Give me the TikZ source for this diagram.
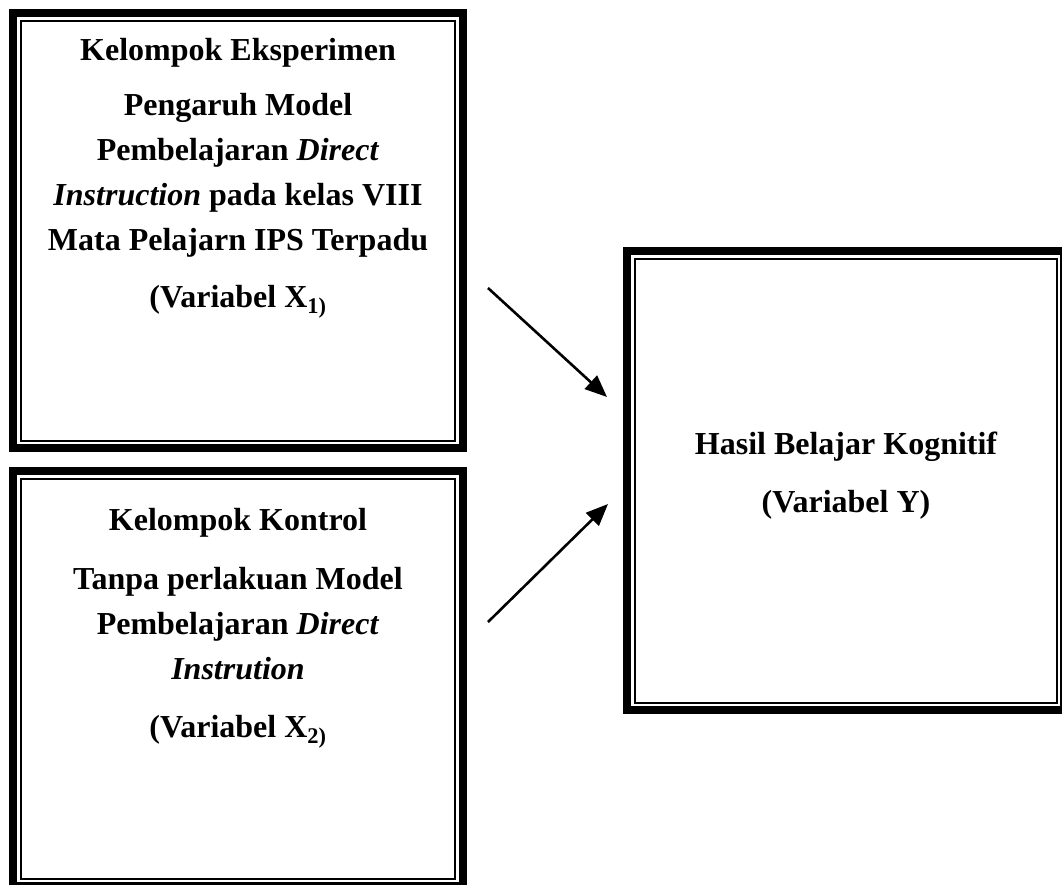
\documentclass[tikz,border=0pt]{standalone}
\usepackage{fontspec}
\setmainfont{Liberation Serif}
\usetikzlibrary{arrows.meta}
\begin{document}
\begin{tikzpicture}[x=1pt,y=-1pt,
  outerbox/.style={draw=black,line width=8pt,rectangle,inner sep=0pt,outer sep=0pt},
  innerline/.style={draw=black,line width=2pt},
  ln/.style={anchor=base,inner sep=0pt,font=\fontsize{32}{36}\selectfont\bfseries},
  arr/.style={line width=2.6pt,-{Triangle[length=22pt,width=18pt]}}]
\useasboundingbox (0,0) rectangle (1062,884);
\begin{scope}
\clip (0,0) rectangle (1062,884);
% boxes
\node[outerbox,minimum width=450pt,minimum height=435pt] (b1) at (238,230.5) {};
\node[outerbox,minimum width=450pt,minimum height=415pt] (b2) at (238,678.5) {};
\node[outerbox,minimum width=437pt,minimum height=458.5pt] (b3) at (845.5,480.25) {};
\draw[innerline] ([shift={(8,8)}]b1.north west) rectangle ([shift={(-8,-7)}]b1.south east);
\draw[innerline] ([shift={(8,8)}]b2.north west) rectangle ([shift={(-8,-7)}]b2.south east);
\draw[innerline] ([shift={(8,8)}]b3.north west) rectangle ([shift={(-7,-7)}]b3.south east);
\end{scope}
% box 1 text
\node[ln] (t11) at (238,60) {Kelompok Eksperimen};
\node[ln] (t12) at (238,115) {Pengaruh Model};
\node[ln] (t13) at (238,160) {Pembelajaran \textit{Direct}};
\node[ln] (t14) at (238,205) {\textit{Instruction} pada kelas VIII};
\node[ln] (t15) at (238,250) {Mata Pelajarn IPS Terpadu};
\node[ln] (t16) at (238,307) {(Variabel X\textsubscript{1)}};
% box 2 text
\node[ln] (t21) at (238,530) {Kelompok Kontrol};
\node[ln] (t22) at (238,589) {Tanpa perlakuan Model};
\node[ln] (t23) at (238,634) {Pembelajaran \textit{Direct}};
\node[ln] (t24) at (238,679) {\textit{Instrution}};
\node[ln] (t25) at (238,737) {(Variabel X\textsubscript{2)}};
% box 3 text
\node[ln] (t31) at (846,454) {Hasil Belajar Kognitif};
\node[ln] (t32) at (846,512) {(Variabel Y)};
% arrows
\coordinate (a1s) at (488,288);
\coordinate (a1e) at (607,397);
\coordinate (a2s) at (488,622);
\coordinate (a2e) at (608,504);
\draw[arr] (a1s) -- (a1e);
\draw[arr] (a2s) -- (a2e);
\end{tikzpicture}
\end{document}
